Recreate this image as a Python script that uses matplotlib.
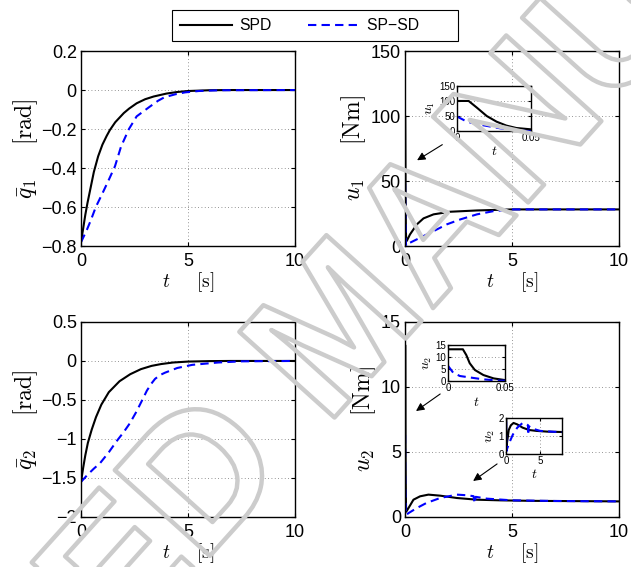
import matplotlib
matplotlib.use("Agg")
import matplotlib.pyplot as plt
import matplotlib.patheffects as pe
from matplotlib.ticker import FuncFormatter
from matplotlib.lines import Line2D

plt.rcParams['font.family'] = ['Liberation Sans', 'DejaVu Sans']
plt.rcParams['mathtext.fontset'] = 'cm'

# joint errors
t_q1_spd = [0, 0.1, 0.2, 0.3, 0.45, 0.6, 0.8, 1.0, 1.2, 1.35, 1.6, 2.0, 2.25, 2.6, 3.0, 3.4, 4.0, 4.5, 5.0, 6.0, 7.0, 10]
q1_spd = [-0.78, -0.71, -0.64, -0.58, -0.50, -0.42, -0.34, -0.28, -0.235, -0.205, -0.165, -0.118, -0.095, -0.068,
          -0.047, -0.033, -0.018, -0.010, -0.005, -0.001, 0, 0]
t_q1_spsd = [0, 0.28, 0.45, 0.69, 1.0, 1.3, 1.59, 1.87, 2.24, 2.6, 3.18, 3.6, 3.9, 4.4, 4.86, 5.5, 6.5, 10]
q1_spsd = [-0.78, -0.715, -0.67, -0.60, -0.53, -0.46, -0.39, -0.29, -0.20, -0.135, -0.088, -0.055, -0.037,
           -0.022, -0.012, -0.005, -0.001, 0]

t_q2_spd = [0, 0.1, 0.2, 0.32, 0.5, 0.7, 0.95, 1.3, 1.8, 2.3, 2.8, 3.3, 3.74, 4.3, 5.0, 6.0, 7.0, 10]
q2_spd = [-1.55, -1.37, -1.21, -1.05, -0.88, -0.72, -0.56, -0.40, -0.26, -0.17, -0.105, -0.063, -0.04,
          -0.02, -0.008, -0.002, 0, 0]
t_q2_spsd = [0, 0.3, 0.6, 0.89, 1.3, 1.66, 2.0, 2.28, 2.59, 2.9, 3.08, 3.29, 3.46, 3.7, 3.93, 4.5, 5.2, 6.4, 7.5, 10]
q2_spsd = [-1.55, -1.46, -1.38, -1.31, -1.17, -1.03, -0.91, -0.80, -0.65, -0.48, -0.38, -0.29, -0.23, -0.18,
           -0.15, -0.09, -0.05, -0.02, -0.005, 0]

# control torques
t_u1_spd = [0, 0.0078, 0.0133, 0.02, 0.0267, 0.0333, 0.04, 0.05, 0.08, 0.23, 0.55, 0.86, 1.33, 2.1, 3.36,
            5.0, 10]
u1_spd = [100, 100, 78, 50, 31, 18, 10, 5.5, 4, 9, 16.7, 21.3, 24.4, 26.4, 27.4, 28.2, 28.2]
t_u1_spsd = [0, 0.0067, 0.0133, 0.02, 0.029, 0.04, 0.047, 0.23, 0.7, 1.33, 1.95, 2.58, 3.36, 4.14, 5.0, 10]
u1_spsd = [48, 31, 23, 17, 9, 2, 0, 2.6, 6.4, 11.5, 16.7, 20.5, 24.4, 26.9, 28.2, 28.2]

t_u2_spd = [0, 0.013, 0.016, 0.019, 0.0235, 0.031, 0.04, 0.05, 0.16, 0.39, 0.7, 1.09, 1.64, 2.42, 3.36,
            4.45, 6.0, 10]
u2_spd = [13.2, 13.2, 10.8, 7.4, 4.6, 2.5, 1.1, 0.4, 0.69, 1.33, 1.59, 1.72, 1.64, 1.46, 1.33, 1.28, 1.24,
          1.2]
t_u2_spsd = [0, 0.0044, 0.0103, 0.019, 0.031, 0.0456, 0.16, 0.55, 1.0, 1.64, 2.42, 2.9, 3.2, 3.25, 3.3,
             3.83, 5.0, 7.0, 10]
u2_spsd = [6.3, 3.5, 2.1, 1.5, 0.7, 0.15, 0.3, 0.69, 1.08, 1.46, 1.72, 1.67, 1.6, 1.05, 1.55, 1.41, 1.28,
           1.23, 1.2]

DASH = (0, (4, 2.5))


def num_fmt(v, pos):
    return ('%g' % v).replace('-', '\u2212')


def style(ax, size=13, pad=3):
    ax.grid(True, color='0.45', linestyle=(0, (1, 3)), linewidth=0.6)
    ax.tick_params(direction='in', length=3, labelsize=size, pad=pad, top=True, right=True)
    for s in ax.spines.values():
        s.set_linewidth(1.0)
    ax.xaxis.set_major_formatter(FuncFormatter(num_fmt))
    ax.yaxis.set_major_formatter(FuncFormatter(num_fmt))


def curves(ax, t1, y1, t2, y2):
    ax.plot(t1, y1, color='black', lw=1.5)
    ax.plot(t2, y2, color='blue', lw=1.5, linestyle=DASH)


fig = plt.figure(figsize=(6.31, 5.67), dpi=100)
W, H = 0.339, 0.344
ax1 = fig.add_axes([0.1284, 0.566, W, H])
ax2 = fig.add_axes([0.642, 0.566, W, H])
ax3 = fig.add_axes([0.1284, 0.0882, W, H])
ax4 = fig.add_axes([0.642, 0.0882, W, H])

curves(ax1, t_q1_spd, q1_spd, t_q1_spsd, q1_spsd)
curves(ax2, t_u1_spd, u1_spd, t_u1_spsd, u1_spsd)
curves(ax3, t_q2_spd, q2_spd, t_q2_spsd, q2_spsd)
curves(ax4, t_u2_spd, u2_spd, t_u2_spsd, u2_spsd)

ax1.set_ylim(-0.8, 0.2)
ax1.set_yticks([-0.8, -0.6, -0.4, -0.2, 0, 0.2])
ax2.set_ylim(0, 150)
ax2.set_yticks([0, 50, 100, 150])
ax3.set_ylim(-2, 0.5)
ax3.set_yticks([-2, -1.5, -1, -0.5, 0, 0.5])
ax4.set_ylim(0, 15)
ax4.set_yticks([0, 5, 10, 15])

xlab = r'$t$     $[\mathrm{s}]$'
ylabels = [r'$\bar{q}_1$     $[\mathrm{rad}]$', r'$u_1$     $[\mathrm{Nm}]$',
           r'$\bar{q}_2$     $[\mathrm{rad}]$', r'$u_2$     $[\mathrm{Nm}]$']
ylab_x = [-0.19, -0.173, -0.19, -0.126]
for ax, lab, lx in zip([ax1, ax2, ax3, ax4], ylabels, ylab_x):
    ax.set_xlim(0, 10)
    ax.set_xticks([0, 5, 10])
    style(ax)
    ax.tick_params(axis='x', pad=5)
    ax.set_xlabel(xlab, fontsize=14)
    ax.xaxis.set_label_coords(0.5, -0.123)
    ax.set_ylabel(lab, fontsize=17)
    ax.yaxis.set_label_coords(lx, 0.5)

# zoomed insets
in1 = ax2.inset_axes([0.243, 0.590, 0.346, 0.231])
in2 = ax4.inset_axes([0.201, 0.697, 0.266, 0.185])
in3 = ax4.inset_axes([0.472, 0.323, 0.262, 0.185])
curves(in1, t_u1_spd, u1_spd, t_u1_spsd, u1_spsd)
curves(in2, t_u2_spd, u2_spd, t_u2_spsd, u2_spsd)
curves(in3, t_u2_spd, u2_spd, t_u2_spsd, u2_spsd)
in1.set_xlim(0, 0.05)
in1.set_xticks([0, 0.05])
in1.set_ylim(0, 150)
in1.set_yticks([0, 50, 100, 150])
in2.set_xlim(0, 0.05)
in2.set_xticks([0, 0.05])
in2.set_ylim(0, 15)
in2.set_yticks([0, 5, 10, 15])
in3.set_xlim(0, 8.2)
in3.set_xticks([0, 5])
in3.set_ylim(0, 2)
in3.set_yticks([0, 1, 2])
for ax, lab in zip([in1, in2, in3], [r'$u_1$', r'$u_2$', r'$u_2$']):
    style(ax, size=7, pad=1.5)
    ax.tick_params(length=2)
    ax.set_xlabel(r'$t$', fontsize=10, labelpad=1)
    ax.set_ylabel(lab, fontsize=10, labelpad=1)

arrow = dict(arrowstyle='-|>', color='black', lw=0.8, mutation_scale=12, shrinkA=0, shrinkB=0)
ax2.annotate('', xy=(0.56, 66), xytext=(1.74, 78), arrowprops=arrow)
ax4.annotate('', xy=(0.51, 8.15), xytext=(1.64, 9.46), arrowprops=arrow)
ax4.annotate('', xy=(3.18, 2.77), xytext=(4.3, 4.08), arrowprops=arrow)

handles = [Line2D([], [], color='black', lw=1.5), Line2D([], [], color='blue', lw=1.5, linestyle=DASH)]
leg = fig.legend(handles, ['SPD', 'SP\u2212SD       '], loc='center', bbox_to_anchor=(315 / 631, 1 - 25.5 / 567),
                 ncol=2, fontsize=11.3, handlelength=3.3, handletextpad=0.45, columnspacing=2.35,
                 borderpad=0.5, fancybox=False, edgecolor='black', framealpha=1)
leg.get_frame().set_linewidth(0.8)

fig.text(346 / 631, 1 - 333 / 567, 'ACCEPTED MANUSCRIPT', rotation=48, rotation_mode='anchor',
         ha='center', va='center', fontsize=134, fontweight='bold', color='none', zorder=20,
         path_effects=[pe.withStroke(linewidth=3.2, foreground='#cccccc')])

fig.savefig('out.png', dpi=100)
